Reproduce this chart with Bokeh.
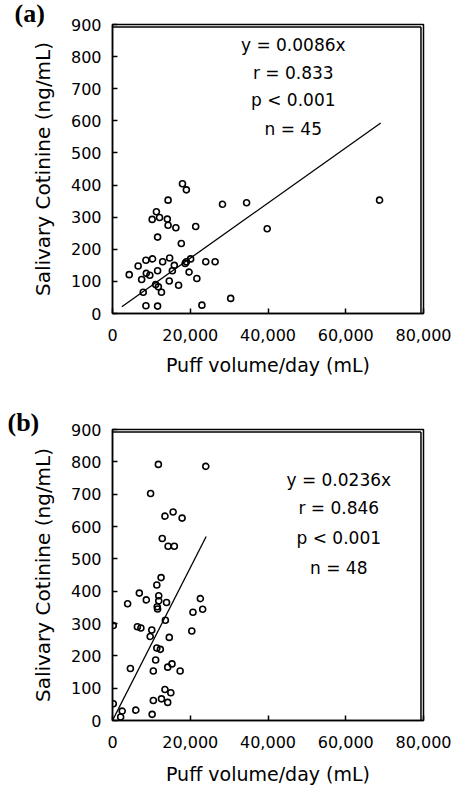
from bokeh.plotting import figure
from bokeh.layouts import column
from bokeh.models import Range1d, FixedTicker, NumeralTickFormatter, Title
from bokeh.core.properties import value
from bokeh.embed import file_html
from bokeh.resources import INLINE

# ---------------- data ----------------
x_ticks = [0, 20000, 40000, 60000, 80000]
y_ticks = [0, 100, 200, 300, 400, 500, 600, 700, 800, 900]
x_label = "Puff volume/day (mL)"
y_label = "Salivary Cotinine (ng/mL)"

# panel (a)
a_x = [4300, 6600, 7500, 7900, 8600, 8600, 8700, 9600, 10300, 10200, 11100, 11300,
       11600, 11600, 11800, 11600, 12100, 12600, 12900, 14100, 14300, 14300, 14700,
       14600, 15400, 15900, 16300, 17000, 17700, 18000, 19000, 18700, 19000, 19700,
       20100, 21400, 21700, 23000, 24000, 26400, 28300, 30400, 34500, 39800, 68700]
a_y = [121, 148, 106, 66, 24, 166, 125, 119, 170, 293, 90, 317,
       238, 133, 83, 23, 299, 66, 161, 294, 353, 275, 173,
       101, 133, 150, 267, 88, 218, 404, 385, 156, 161, 129,
       170, 271, 109, 26, 161, 161, 340, 47, 345, 264, 353]
a_line_x = [2400, 69000]
a_line_y = [21, 593]
a_stats = ["y = 0.0086x", "r = 0.833", "p < 0.001", "n = 45"]
a_stats_x = [46500, 46500, 46500, 46500]
a_stats_y = [835, 749, 664, 575]

# panel (b)
b_x = [12500, 11400, 6900, 3900, 8700, 11900, 11900, 11500, 11600, 13900, 22600, 23200,
       20700, 200, 6400, 7300, 13600, 10100, 9700, 14600, 20400, 11400, 12300, 11100,
       4600, 10500, 14200, 15300, 17400, 13500, 15000, 12600, 14200, 10500, 200, 2500,
       2100, 6000, 10200, 11800, 24000, 9800, 13500, 15600, 17900, 12800, 14300, 15900]
b_y = [442, 419, 394, 361, 373, 386, 370, 352, 345, 365, 377, 344,
       335, 294, 290, 286, 310, 280, 260, 257, 277, 224, 220, 187,
       161, 153, 165, 175, 153, 96, 86, 67, 56, 62, 52, 29,
       11, 32, 19, 792, 786, 702, 632, 645, 626, 563, 539, 539]
b_line_x = [0, 24100]
b_line_y = [0, 569]
b_stats = ["y = 0.0236x", "r = 0.846", "p < 0.001", "n = 48"]
b_stats_x = [58200, 58200, 58200, 58200]
b_stats_y = [745, 656, 563, 473]

# top and right edges of the plot box, set just inside the data area
box_top = 892
box_right = 79350


def style_axis(ax):
    ax.major_tick_in = 5
    ax.major_tick_out = 0
    ax.minor_tick_line_color = None
    ax.axis_line_width = 1.5
    ax.axis_line_color = "black"
    ax.major_tick_line_width = 1.5
    ax.major_tick_line_color = "black"
    ax.major_label_text_font = "DejaVu Sans"
    ax.major_label_text_font_size = "16px"
    ax.major_label_text_color = "black"
    ax.axis_label_text_font = "DejaVu Sans"
    ax.axis_label_text_font_style = "normal"
    ax.axis_label_text_color = "black"


def make_panel(px, py, lx, ly, stats, sx, sy, tag, tag_offset, tag_standoff, height,
               b_left, b_right, b_top, b_bottom, xtick_standoff, xlab_standoff):
    p = figure(width=457, height=height,
               x_range=Range1d(0, 80000), y_range=Range1d(0, 900),
               output_backend="svg", toolbar_location=None,
               min_border_left=b_left, min_border_right=b_right,
               min_border_top=b_top, min_border_bottom=b_bottom,
               background_fill_color=None, border_fill_color=None)
    p.xgrid.visible = False
    p.ygrid.visible = False
    p.outline_line_color = "black"
    p.outline_line_width = 1.5

    p.xaxis.ticker = FixedTicker(ticks=x_ticks)
    p.yaxis.ticker = FixedTicker(ticks=y_ticks)
    p.xaxis.formatter = NumeralTickFormatter(format="0,0")
    style_axis(p.xaxis[0])
    style_axis(p.yaxis[0])
    p.xaxis.axis_label = x_label
    p.yaxis.axis_label = y_label
    p.xaxis.axis_label_text_font_size = "19px"
    p.yaxis.axis_label_text_font_size = "20px"
    p.xaxis.major_label_standoff = xtick_standoff
    p.yaxis.major_label_standoff = 11
    p.xaxis.axis_label_standoff = xlab_standoff
    p.yaxis.axis_label_standoff = 13

    p.add_layout(Title(text=tag, align="left", offset=tag_offset, standoff=tag_standoff,
                       text_font="Liberation Serif", text_font_style="bold",
                       text_font_size="26px", text_color="black"), "above")

    p.line(lx, ly, line_color="black", line_width=1.3)
    p.scatter(px, py, marker="circle", size=6, fill_color=None,
              line_color="black", line_width=1.6)
    p.text(x=sx, y=sy, text=stats, text_font=value("DejaVu Sans"),
           text_font_size=value("17px"), text_align="center",
           text_baseline="middle", text_color="black")

    # plot-box top and right edges, drawn last
    p.segment(x0=[x_ticks[0], box_right], y0=[box_top, y_ticks[0]],
              x1=[box_right, box_right], y1=[box_top, box_top],
              line_color="black", line_width=1.5)
    return p


pa = make_panel(a_x, a_y, a_line_x, a_line_y, a_stats, a_stats_x, a_stats_y,
                "(a)", -98, -7, 395, 110, 34, 24, 82, 15, 10)
pb = make_panel(b_x, b_y, b_line_x, b_line_y, b_stats, b_stats_x, b_stats_y,
                "(b)", -105, -14, 392, 112, 29, 34, 66, 15, 12)

layout = column(pa, pb, spacing=0)
open("out.html", "w").write(file_html(layout, INLINE))
